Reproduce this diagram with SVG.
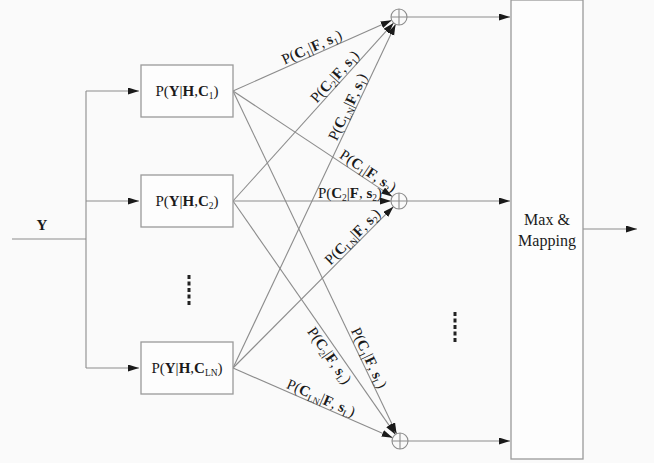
<svg xmlns="http://www.w3.org/2000/svg" width="654" height="463" viewBox="0 0 654 463">
<defs>
<marker id="ah" markerUnits="userSpaceOnUse" markerWidth="12" markerHeight="8" refX="11" refY="3.5" orient="auto">
<path d="M0,0 L11,3.5 L0,7 z" fill="#1a1a1a"/>
</marker>
<style>
.ln{stroke:#8c8c8c;stroke-width:1.1;fill:none}
.ar{stroke:#8c8c8c;stroke-width:1.1;fill:none;marker-end:url(#ah)}
.box{fill:#fdfdfd;stroke:#9a9a9a;stroke-width:1.3}
.t{font-family:"Liberation Serif","Times New Roman","DejaVu Serif",serif;fill:#1a1a1a;font-size:15px}
.lb{font-family:"Liberation Serif","Times New Roman","DejaVu Serif",serif;fill:#1a1a1a;font-size:15px;text-anchor:middle}
.b{font-weight:bold}
.s{font-size:9.5px}
.dots{stroke:#222;stroke-width:3;stroke-dasharray:4 2.5}
</style>
</defs>
<rect x="0" y="0" width="654" height="463" fill="#fafafa"/>

<g id="connectors">
<path class="ln" d="M12,239 H86 M86,91 V368"/>
<path class="ar" d="M86,91 H139"/>
<path class="ar" d="M86,201 H139"/>
<path class="ar" d="M86,368 H139"/>
<path class="ar" d="M233,91 L391.7,20.3"/>
<path class="ar" d="M233,201 L393.6,22.9"/>
<path class="ar" d="M233,368 L395.6,24.2"/>
<path class="ar" d="M233,91 L392.3,196.6"/>
<path class="ar" d="M233,201 L391,201"/>
<path class="ar" d="M233,368 L393.4,206.7"/>
<path class="ar" d="M233,91 L396.6,433.8"/>
<path class="ar" d="M233,201 L395.4,434.4"/>
<path class="ar" d="M233,368 L392.7,437.8"/>
<path class="ar" d="M407,17 H510"/>
<path class="ar" d="M407,201 H510"/>
<path class="ar" d="M408,441 H510"/>
<path class="ar" d="M583,229 H637"/>
</g>

<g id="input-label"><text class="t b" x="42" y="230" text-anchor="middle">Y</text></g>

<g id="box1">
<rect class="box" x="141" y="65" width="92" height="52"/>
<text class="t" x="187" y="96" text-anchor="middle">P(<tspan class="b">Y</tspan>|<tspan class="b">H</tspan>,<tspan class="b">C</tspan><tspan class="s" dy="3">1</tspan><tspan dy="-3">)</tspan></text>
</g>
<g id="box2">
<rect class="box" x="141" y="175" width="92" height="52"/>
<text class="t" x="187" y="206" text-anchor="middle">P(<tspan class="b">Y</tspan>|<tspan class="b">H</tspan>,<tspan class="b">C</tspan><tspan class="s" dy="3">2</tspan><tspan dy="-3">)</tspan></text>
</g>
<g id="box3">
<rect class="box" x="141" y="342" width="92" height="52"/>
<text class="t" x="187" y="373" text-anchor="middle">P(<tspan class="b">Y</tspan>|<tspan class="b">H</tspan>,<tspan class="b">C</tspan><tspan class="s" dy="3">LN</tspan><tspan dy="-3">)</tspan></text>
</g>
<g id="dots-left"><line class="dots" x1="189" y1="275" x2="189" y2="306"/></g>
<g id="dots-right"><line class="dots" x1="455" y1="312" x2="455" y2="343"/></g>

<g id="sum1"><circle class="ln" cx="399" cy="17" r="8"/><path class="ln" d="M391,17 H407 M399,9 V25"/></g>
<g id="sum2"><circle class="ln" cx="399" cy="201" r="8"/><path class="ln" d="M391,201 H407 M399,193 V209"/></g>
<g id="sum3"><circle class="ln" cx="400" cy="441" r="8"/><path class="ln" d="M392,441 H408 M400,433 V449"/></g>

<g id="max-mapping">
<rect class="box" x="511" y="0" width="72" height="459"/>
<text class="t" x="547" y="225" text-anchor="middle" style="font-size:16px">Max &amp;</text>
<text class="t" x="547" y="246" text-anchor="middle" style="font-size:16px">Mapping</text>
</g>

<g id="edge-labels">
<text class="lb" transform="translate(315,54.4) rotate(-24.03)" y="-3">P(<tspan class="b">C</tspan><tspan class="s" dy="3">1</tspan><tspan dy="-3">|</tspan><tspan class="b">F</tspan>, <tspan class="b">s</tspan><tspan class="s" dy="3">1</tspan><tspan dy="-3">)</tspan></text>
<text class="lb" transform="translate(340.5,81.8) rotate(-47.95)" y="-3">P(<tspan class="b">C</tspan><tspan class="s" dy="3">2</tspan><tspan dy="-3">|</tspan><tspan class="b">F</tspan>, <tspan class="b">s</tspan><tspan class="s" dy="3">1</tspan><tspan dy="-3">)</tspan></text>
<text class="lb" transform="translate(354.8,110.3) rotate(-64.68)" y="-3">P(<tspan class="b">C</tspan><tspan class="s" dy="3">LN</tspan><tspan dy="-3">|</tspan><tspan class="b">F</tspan>, <tspan class="b">s</tspan><tspan class="s" dy="3">1</tspan><tspan dy="-3">)</tspan></text>
<text class="lb" transform="translate(363.7,177.6) rotate(33.53)" y="-3">P(<tspan class="b">C</tspan><tspan class="s" dy="3">1</tspan><tspan dy="-3">|</tspan><tspan class="b">F</tspan>, <tspan class="b">s</tspan><tspan class="s" dy="3">2</tspan><tspan dy="-3">)</tspan></text>
<text class="lb" x="350" y="198">P(<tspan class="b">C</tspan><tspan class="s" dy="3">2</tspan><tspan dy="-3">|</tspan><tspan class="b">F</tspan>, <tspan class="b">s</tspan><tspan class="s" dy="3">2</tspan><tspan dy="-3">)</tspan></text>
<text class="lb" transform="translate(358.1,242.2) rotate(-45.17)" y="-3">P(<tspan class="b">C</tspan><tspan class="s" dy="3">LN</tspan><tspan dy="-3">|</tspan><tspan class="b">F</tspan>, <tspan class="b">s</tspan><tspan class="s" dy="3">2</tspan><tspan dy="-3">)</tspan></text>
<text class="lb" transform="translate(362,361.3) rotate(64.49)" y="-3">P(<tspan class="b">C</tspan><tspan class="s" dy="3">1</tspan><tspan dy="-3">|</tspan><tspan class="b">F</tspan>, <tspan class="b">s</tspan><tspan class="s" dy="3">L</tspan><tspan dy="-3">)</tspan></text>
<text class="lb" transform="translate(336.9,350.4) rotate(55.17)" y="14">P(<tspan class="b">C</tspan><tspan class="s" dy="3">2</tspan><tspan dy="-3">|</tspan><tspan class="b">F</tspan>, <tspan class="b">s</tspan><tspan class="s" dy="3">L</tspan><tspan dy="-3">)</tspan></text>
<text class="lb" transform="translate(317.9,405.1) rotate(23.61)" y="-3">P(<tspan class="b">C</tspan><tspan class="s" dy="3">LN</tspan><tspan dy="-3">|</tspan><tspan class="b">F</tspan>, <tspan class="b">s</tspan><tspan class="s" dy="3">L</tspan><tspan dy="-3">)</tspan></text>
</g>
</svg>
